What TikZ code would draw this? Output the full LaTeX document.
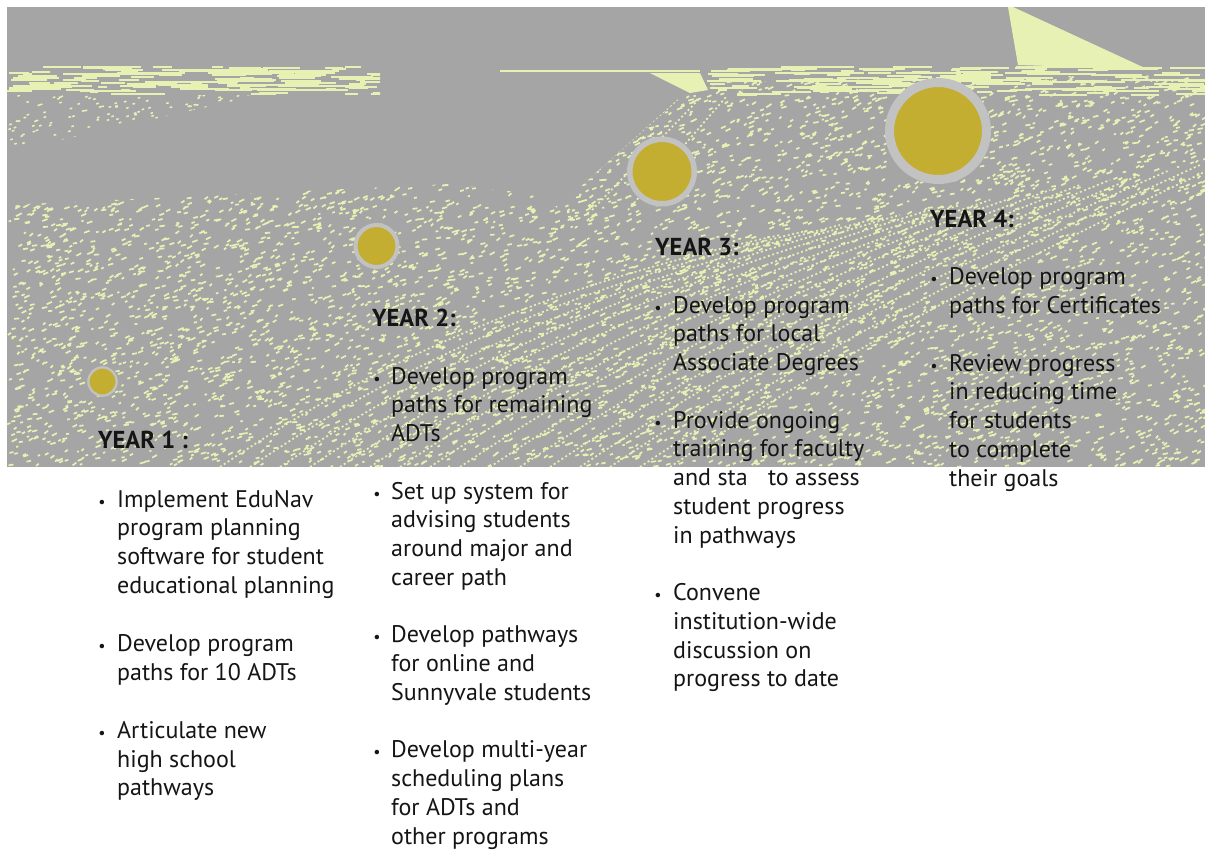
\documentclass[tikz,border=0pt]{standalone}
\usepackage{fontspec}
\setmainfont{PT Sans}
\definecolor{bggray}{HTML}{A5A5A5}
\definecolor{pale}{HTML}{E8F1B4}
\definecolor{gold}{HTML}{C4AE32}
\definecolor{ring}{HTML}{C2C2C2}
\definecolor{ink}{HTML}{151515}
\begin{document}
\begin{tikzpicture}[x=1pt,y=-1pt,
  head/.style={font=\bfseries\fontsize{24.5}{28.75}\selectfont, text=ink, inner sep=0, anchor=base west},
  body/.style={font=\fontsize{24}{28.75}\selectfont, text=ink, align=left, inner sep=0, anchor=north west},
  bul/.style={font=\fontsize{16}{20}\selectfont, text=ink, inner sep=0, anchor=base},
  dot/.style={circle, fill=gold, draw=ring, inner sep=0},
  streak/.style={pale, line width=1.7pt, dash pattern=on 2pt off 2.6pt}]
\useasboundingbox (0,0) rectangle (1205,852);
\fill[white] (0,0) rectangle (1205,852);
\fill[bggray] (7,7) rectangle (1205,467);
% top-right pale wedge
\fill[pale] (1008,7) -- (1013,7) -- (1147,69) -- (1018,65) -- cycle;
% upper horizontal band
\pgfmathsetseed{11}
\begin{scope}
\clip (7,66) rectangle (380,97);
\draw[pale, line width=2pt] \foreach \i [evaluate=\i as \px using {7+370*rnd}, evaluate=\i as \py using {67+28*rnd}, evaluate=\i as \ln using {8+50*rnd}] in {1,...,130} { (\px,\py) -- ++(\ln,0) };
\end{scope}
\begin{scope}
\clip (700,66) rectangle (1205,97);
\draw[pale, line width=2pt] \foreach \i [evaluate=\i as \px using {700+505*rnd}, evaluate=\i as \py using {67+28*rnd}, evaluate=\i as \ln using {8+50*rnd}] in {1,...,170} { (\px,\py) -- ++(\ln,0) };
\end{scope}
\draw[pale, line width=1.5pt] (500,71) -- (700,71);
\fill[pale] (650,73) -- (700,73) -- (708,90) -- (690,93) -- cycle;
% left dots under band
\begin{scope}
\clip (7,95) -- (260,95) -- (7,152) -- cycle;
\draw[pale, line width=1.5pt] \foreach \i [evaluate=\i as \px using {7+253*rnd}, evaluate=\i as \py using {95+57*rnd}] in {1,...,170} { (\px,\py) -- ++(2.5,-0.8) };
\end{scope}
% main textured region
\begin{scope}
\clip (7,205) -- (200,196) -- (450,184) -- (540,195) -- (558,207) -- (677,100) -- (720,82) -- (1205,74) -- (1205,467) -- (7,467) -- cycle;
\draw[pale, line width=1.7pt] \foreach \i [evaluate=\i as \px using {7+1198*rnd}, evaluate=\i as \py using {72+395*rnd}, evaluate=\i as \dx using {2+3.5*rnd}, evaluate=\i as \dy using {-(0.4+2.4*rnd)}] in {1,...,6800} { (\px,\py) -- ++(\dx,\dy) };
\foreach \k in {0,...,15} {
  \draw[streak] (220+30*\k,467) .. controls (320+30*\k,400) and (480+30*\k,300) .. (780+30*\k,235-5*\k);
}
\draw[streak] (556,207) -- (677,100) -- (620,74);
\draw[streak] (592,210) -- (700,98);
\draw[streak] (628,210) -- (726,97);
\end{scope}
% circles
\node[dot, minimum size=28.3pt, line width=2.3pt] (c1) at (102.5,381.5) {};
\node[dot, minimum size=42pt, line width=4pt] (c2) at (376.5,246) {};
\node[dot, minimum size=64.5pt, line width=5.5pt] (c3) at (662,171.5) {};
\node[dot, minimum size=97pt, line width=9pt] (c4) at (938,131) {};
% Year 1
\node[head] (h1) at (98,448) {YEAR 1 :};
\node[bul] (b11) at (102,507) {\textbullet};
\node[body] (t11) at (117,507-20.125) {\strut Implement EduNav\\program planning\\software for student\\educational planning};
\node[bul] (b12) at (102,651.5) {\textbullet};
\node[body] (t12) at (117,651.5-20.125) {\strut Develop program\\paths for 10 ADTs};
\node[bul] (b13) at (102,738.2) {\textbullet};
\node[body] (t13) at (117,738.2-20.125) {\strut Articulate new\\high school\\pathways};
% Year 2
\node[head] (h2) at (372,326) {YEAR 2:};
\node[bul] (b21) at (377,384) {\textbullet};
\node[body] (t21) at (391,384-20.125) {\strut Develop program\\paths for remaining\\ADTs};
\node[bul] (b22) at (377,499) {\textbullet};
\node[body] (t22) at (391,499-20.125) {\strut Set up system for\\advising students\\around major and\\career path};
\node[bul] (b23) at (377,642.75) {\textbullet};
\node[body] (t23) at (391,642.75-20.125) {\strut Develop pathways\\for online and\\Sunnyvale students};
\node[bul] (b24) at (377,757.75) {\textbullet};
\node[body] (t24) at (391,757.75-20.125) {\strut Develop multi-year\\scheduling plans\\for ADTs and\\other programs};
% Year 3
\node[head] (h3) at (655,255) {YEAR 3:};
\node[bul] (b31) at (658,313) {\textbullet};
\node[body] (t31) at (673,313-20.125) {\strut Develop program\\paths for local\\Associate Degrees};
\node[bul] (b32) at (658,428) {\textbullet};
\node[body] (t32) at (673,428-20.125) {\strut Provide ongoing\\training for faculty\\and sta\hspace{14pt} to assess\\student progress\\in pathways};
\node[bul] (b33) at (658,600.5) {\textbullet};
\node[body] (t33) at (673,600.5-20.125) {\strut Convene\\institution-wide\\discussion on\\progress to date};
% Year 4
\node[head] (h4) at (930,227) {YEAR 4:};
\node[bul] (b41) at (934,284.5) {\textbullet};
\node[body] (t41) at (949,284.5-20.125) {\strut Develop program\\paths for Certificates};
\node[bul] (b42) at (934,371) {\textbullet};
\node[body] (t42) at (949,371-20.125) {\strut Review progress\\in reducing time\\for students\\to complete\\their goals};
\end{tikzpicture}
\end{document}
